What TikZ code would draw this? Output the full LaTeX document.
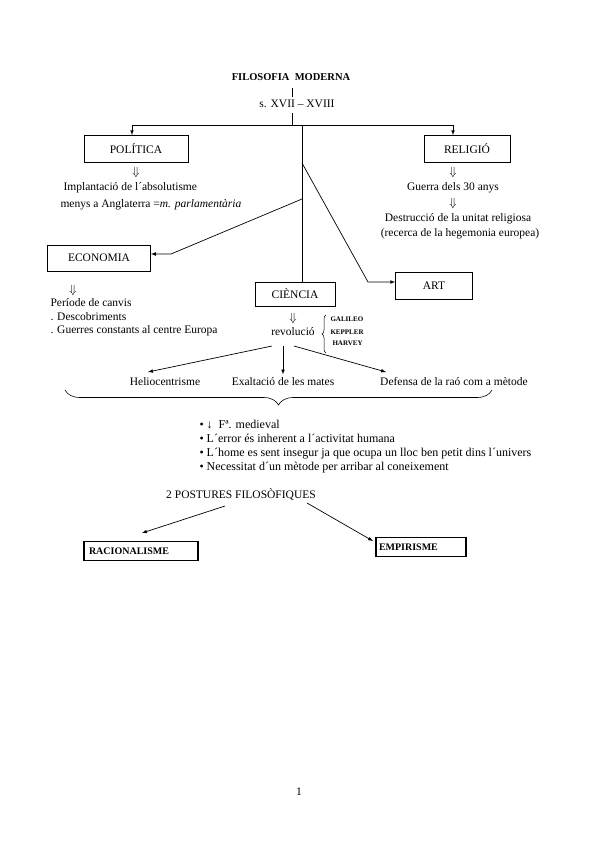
\documentclass[tikz,border=0pt]{standalone}
\usepackage{fontspec}
\setmainfont{Liberation Serif}
\usetikzlibrary{arrows,decorations.pathreplacing}
\tikzset{
  caixa/.style={draw, line width=0.7pt, inner sep=0pt},
  caixaneg/.style={draw, line width=1.3pt, inner sep=0pt, font=\bfseries},
  linia/.style={draw=black, line width=0.7pt},
  fletxa/.style={draw=black, line width=0.7pt, ->, >=latex},
  noms/.style={anchor=west, font=\fontsize{7}{8}\selectfont\bfseries}
}
\newcommand{\baix}{$\Downarrow$}
\begin{document}
\begin{tikzpicture}[x=1pt,y=-1pt,font=\fontsize{11.5}{13.5}\selectfont]
   \useasboundingbox (0,0) rectangle (599,848);
      % titol i segles
      \node [font=\fontsize{10.5}{12}\selectfont\bfseries] (titol) at (291,77) {FILOSOFIA\ \ MODERNA};
      \node (segles) at (297,104) {s. XVII -- XVIII};
      \draw [linia] (292,88) -- (292,97);
      \coordinate (nus) at (292,125);
      \coordinate (pesq) at (132,125);
      \coordinate (pdre) at (453,125);
      \coordinate (tronc) at (302,125);
      \draw [linia] (292,113) -- (nus);
      \draw [linia] (pesq) -- (pdre);
      % politica
      \node [caixa, minimum width=104, minimum height=27] (politica) at (136,149) {POLÍTICA};
      \draw [fletxa] (pesq) -- (pesq |- politica.north);
      \node (pol1) at (136,172) {\baix};
      \node [anchor=west] (pol2) at (60,188) {Implantació de l´absolutisme};
      \node [anchor=west] (pol3) at (57,205) {menys a Anglaterra =\textit{m. parlamentària}};
      % religio
      \node [caixa, minimum width=86, minimum height=27] (religio) at (467,149) {RELIGIÓ};
      \draw [fletxa] (pdre) -- (pdre |- religio.north);
      \node (rel1) at (453,172) {\baix};
      \node (rel2) at (453,188) {Guerra dels 30 anys};
      \node (rel3) at (453,203) {\baix};
      \node (rel4) at (458,219) {Destrucció de la unitat religiosa};
      \node (rel5) at (460,234) {(recerca de la hegemonia europea)};
      % economia
      \node [caixa, minimum width=103, minimum height=26] (economia) at (99,258) {ECONOMIA};
      \coordinate (eco1) at (302,199);
      \coordinate (eco2) at (171,254);
      \draw [fletxa] (eco1) -- (eco2) -- (eco2 -| economia.east);
      \node (eco3) at (73,290) {\baix};
      \node [anchor=west] (eco4) at (47,303) {Període de canvis};
      \node [anchor=west] (eco5) at (47,317) {. Descobriments};
      \node [anchor=west] (eco6) at (47,331) {. Guerres constants al centre Europa};
      % art
      \node [caixa, minimum width=77, minimum height=27] (art) at (434,286) {ART};
      \coordinate (art1) at (302,163);
      \coordinate (art2) at (368,282);
      \draw [fletxa] (art1) -- (art2) -- (art2 -| art.west);
      % ciencia
      \node [caixa, minimum width=80, minimum height=24] (ciencia) at (295,294) {CIÈNCIA};
      \draw [linia] (tronc) -- (ciencia.north -| tronc);
      \node (cie1) at (293,318) {\baix};
      \node (revolucio) at (293,332) {revolució};
      \draw [linia, line width=0.5pt, decorate, decoration={brace, amplitude=4pt}] (326,353) -- (326,315);
      \node [noms] (galileo) at (327,319) {GALILEO};
      \node [noms] (keppler) at (327,332) {KEPPLER};
      \node [noms] (harvey) at (329,343) {HARVEY};
      % conseqüencies
      \node (helio) at (165,382) {Heliocentrisme};
      \node (mates) at (283,382) {Exaltació de les mates};
      \node (rao) at (454,382) {Defensa de la raó com a mètode};
      \coordinate (r1) at (272,346);
      \coordinate (r2) at (283,346);
      \coordinate (r3) at (294,346);
      \draw [fletxa] (r1) -- (148,372);
      \draw [fletxa] (r2) -- (mates.north);
      \draw [fletxa] (r3) -- (386,372);
      \draw [linia, line width=0.6pt, decorate, decoration={brace, amplitude=15pt, mirror}] (65,390) -- (492,390);
      \node [anchor=north west, align=left, font=\fontsize{12}{14}\selectfont] (llista) at (196,417)
        {• ↓\ \ Fª. medieval\\
         • L´error és inherent a l´activitat humana\\
         • L´home es sent insegur ja que ocupa un lloc ben petit dins l´univers\\
         • Necessitat d´un mètode per arribar al coneixement};
      % postures
      \node (postures) at (241,494) {2 POSTURES FILOSÒFIQUES};
      \node [caixaneg, minimum width=114, minimum height=19, text width=104, align=left] (racio) at (141,551) {RACIONALISME};
      \node [caixaneg, minimum width=90, minimum height=19, text width=84, align=left] (empiri) at (421,547) {EMPIRISME};
      \coordinate (pos1) at (225,506);
      \coordinate (pos2) at (307,503);
      \draw [fletxa] (pos1) -- (142,533);
      \draw [fletxa] (pos2) -- (373,541);
      \node (pagina) at (299,792) {1};
\end{tikzpicture}
\end{document}
